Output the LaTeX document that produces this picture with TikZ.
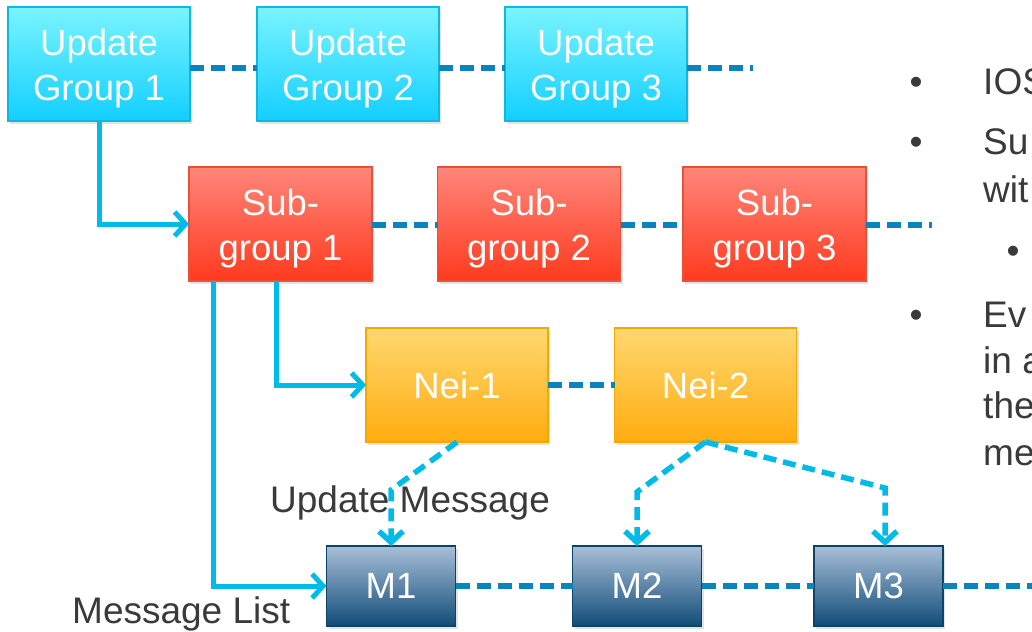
\documentclass[tikz,border=0pt]{standalone}
\usepackage{fontspec}
\setmainfont{Liberation Sans}
\usetikzlibrary{arrows.meta,shadows}
\definecolor{ugtop}{HTML}{7AF4FF}
\definecolor{ugbot}{HTML}{12CFFF}
\definecolor{ugline}{HTML}{10B8E0}
\definecolor{sgtop}{HTML}{FF867A}
\definecolor{sgbot}{HTML}{FF3A1E}
\definecolor{sgline}{HTML}{E8503A}
\definecolor{nbtop}{HTML}{FFD870}
\definecolor{nbbot}{HTML}{FFAC10}
\definecolor{nbline}{HTML}{F5A800}
\definecolor{mtop}{HTML}{A8BFD8}
\definecolor{mbot}{HTML}{124C78}
\definecolor{mline}{HTML}{0C4468}
\definecolor{dashblue}{HTML}{0A84BC}
\definecolor{cyanline}{HTML}{00BBE8}
\definecolor{txtgray}{HTML}{3A3A3A}
\begin{document}
\begin{tikzpicture}[x=1pt,y=-1pt,
  box/.style={rectangle, inner sep=0pt, outer sep=0pt, line width=1.5pt, align=center,
    text=white, font=\fontsize{36.5}{45}\selectfont,
    drop shadow={shadow xshift=2pt,shadow yshift=-3pt,opacity=0.22}},
  boxtxt/.style={inner sep=0pt, align=center, text=white, font=\fontsize{36.5}{45}\selectfont, yshift=-5pt},
  ugbox/.style={box, draw=ugline, top color=ugtop, bottom color=ugbot, minimum width=182pt, minimum height=114pt},
  sgbox/.style={box, draw=sgline, top color=sgtop, bottom color=sgbot, minimum width=183pt, minimum height=114pt},
  nbbox/.style={box, draw=nbline, top color=nbtop, bottom color=nbbot, minimum width=182pt, minimum height=114pt},
  mbox/.style={box, draw=mline, top color=mtop, bottom color=mbot, minimum width=129pt, minimum height=80pt},
  link/.style={draw=dashblue, line width=6pt, dash pattern=on 14pt off 7pt},
  feed/.style={draw=cyanline, line width=5pt, -{Straight Barb[length=11pt,width=24pt]}},
  msg/.style={draw=cyanline, line width=5.5pt, dash pattern=on 13pt off 7pt, -{Straight Barb[length=11pt,width=24pt]}},
  lbl/.style={text=txtgray, font=\fontsize{37}{46}\selectfont, inner sep=0pt, anchor=base west},
  bul/.style={text=txtgray, font=\fontsize{37}{46}\selectfont, inner sep=0pt, anchor=base},
]
\useasboundingbox (0,0) rectangle (1032,631);
\clip (0,0) rectangle (1032,631);

% boxes
\node[ugbox, label={[boxtxt]center:Update\\Group 1}] (ug1) at (99,64) {};
\node[ugbox, label={[boxtxt]center:Update\\Group 2}] (ug2) at (348,64) {};
\node[ugbox, label={[boxtxt]center:Update\\Group 3}] (ug3) at (596,64) {};
\node[sgbox, label={[boxtxt]center:Sub-\\group 1}] (sg1) at (280.5,224) {};
\node[sgbox, label={[boxtxt]center:Sub-\\group 2}] (sg2) at (529,224) {};
\node[sgbox, label={[boxtxt]center:Sub-\\group 3}] (sg3) at (774.5,224) {};
\node[nbbox] (nei1) at (457,385) {Nei-1};
\node[nbbox] (nei2) at (705.5,385) {Nei-2};
\node[mbox] (m1) at (391,586) {M1};
\node[mbox] (m2) at (637,586) {M2};
\node[mbox] (m3) at (878.5,586) {M3};

% labels
\node[lbl] (lum) at (270,512) {Update Message};
\node[lbl] (lml) at (72,623) {Message List};

% dashed chain links
\coordinate (ugend) at (753,68);
\coordinate (sgend) at (932,225);
\coordinate (mend) at (1040,586);
\draw[link] (ug1.east |- ugend) -- (ug2.west |- ugend);
\draw[link] (ug2.east |- ugend) -- (ug3.west |- ugend);
\draw[link] (ug3.east |- ugend) -- (ugend);
\draw[link] (sg1.east |- sgend) -- (sg2.west |- sgend);
\draw[link] (sg2.east |- sgend) -- (sg3.west |- sgend);
\draw[link] (sg3.east |- sgend) -- (sgend);
\draw[link] (nei1.east) -- (nei2.west);
\draw[link] (m1.east) -- (m2.west);
\draw[link] (m2.east) -- (m3.west);
\draw[link] (m3.east) -- (mend);

% solid feeds
\draw[feed] (ug1.south) |- (sg1.west);
\draw[feed] ([xshift=24pt]sg1.south west) |- (m1.west);
\draw[feed] ([xshift=-4.5pt]sg1.south) |- (nei1.west);

% message arrows
\coordinate (k1) at (391,490);
\coordinate (k2) at (637,492);
\coordinate (k3) at (885,488);
\draw[msg] (nei1.south) -- (k1) -- (m1.north);
\draw[msg] (nei2.south) -- (k2) -- (m2.north);
\draw[msg] (nei2.south) -- (k3) -- (k3 |- m3.north);

% right-hand bullet text (cut at the edge)
\node[bul] (b1) at (916,95) {•};
\node[bul] (b2) at (916,155) {•};
\node[bul] (b3) at (1013,263) {•};
\node[bul] (b4) at (916,327) {•};
\node[lbl] (t1) at (983,95) {IOS};
\node[lbl] (t2) at (983,155) {Su};
\node[lbl] (t3) at (983,202) {wit};
\node[lbl] (t4) at (983,327) {Ev};
\node[lbl] (t5) at (983,373) {in a};
\node[lbl] (t6) at (983,418) {the};
\node[lbl] (t7) at (983,465) {me};
\end{tikzpicture}
\end{document}
